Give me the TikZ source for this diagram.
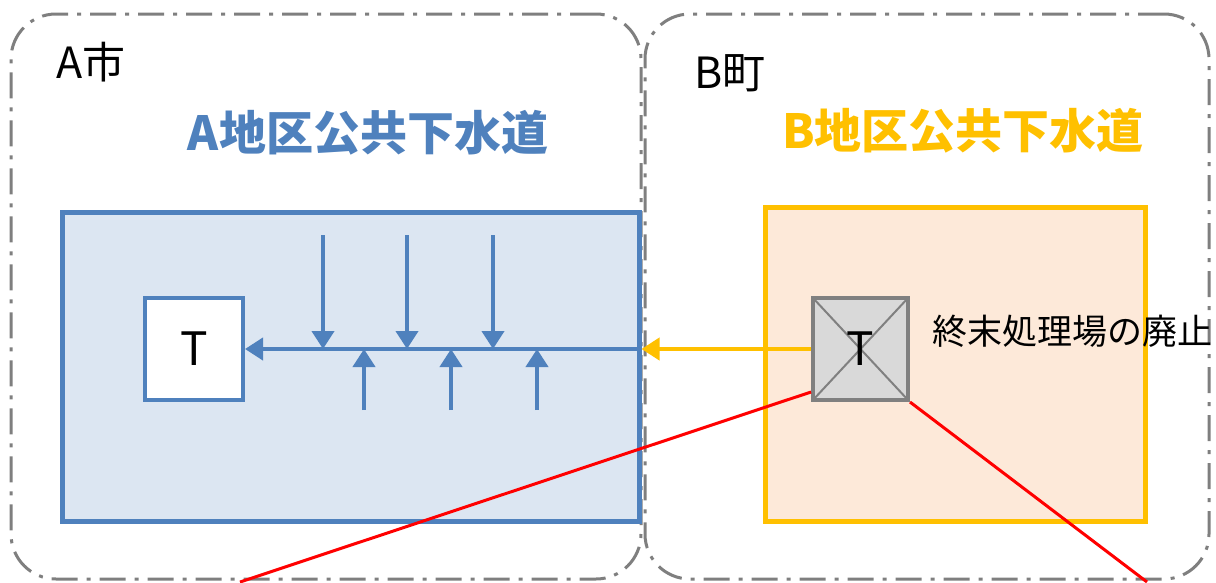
\documentclass[tikz,border=0pt]{standalone}
\usepackage{fontspec}
\setmainfont{Noto Sans CJK JP}
\usetikzlibrary{arrows.meta, positioning}
\definecolor{sewblue}{HTML}{4F81BD}
\definecolor{sewbluefill}{HTML}{DCE6F2}
\definecolor{sewyellow}{HTML}{FFC000}
\definecolor{sewpeach}{HTML}{FDE9D9}
\definecolor{plantfill}{HTML}{D9D9D9}
\definecolor{plantline}{HTML}{808080}
\definecolor{arealine}{HTML}{7F7F7F}
\tikzset{
  area/.style={rectangle, draw=arealine, rounded corners=45pt, line width=3pt,
    dash pattern=on 26pt off 9pt on 4pt off 9pt, inner sep=0pt},
  sewer/.style={rectangle, line width=5pt, inner sep=0pt},
  plant/.style={rectangle, line width=4pt, font=\fontsize{46}{50}\selectfont, inner sep=0pt},
  cityname/.style={font=\fontsize{43}{47}\selectfont, inner sep=0pt},
  title/.style={font=\fontsize{47}{51}\selectfont\bfseries, inner sep=0pt},
  note/.style={font=\fontsize{35}{39}\selectfont, inner sep=0pt},
  flowA/.style={-{Triangle[length=18pt, width=22pt]}, draw=sewblue, line width=4pt},
  flowB/.style={-{Triangle[length=18pt, width=22pt]}, draw=sewyellow, line width=4pt},
  callout/.style={draw=red, line width=3pt}
}

\begin{document}
\begin{tikzpicture}[x=1pt, y=-1pt]
\useasboundingbox (0,0) rectangle (1216,582);

% ---- city / town areas ----
\node[area, minimum width=630pt, minimum height=565pt] (areaA) at (326,296.5) {};
\node[area, minimum width=564pt, minimum height=565pt] (areaB) at (927,296.5) {};
\node[cityname, anchor=west] (cityA) at (56,62) {A市};
\node[cityname, anchor=west] (townB) at (694,73) {B町};

% ---- sewer districts ----
\node[title, text=sewblue] (titleA) at (368,133) {A地区公共下水道};
\node[title, text=sewyellow] (titleB) at (963,131) {B地区公共下水道};
\node[sewer, draw=sewblue, fill=sewbluefill, minimum width=577pt, minimum height=309pt] (sewerA) at (350.5,366.5) {};
\node[sewer, draw=sewyellow, fill=sewpeach, minimum width=380pt, minimum height=314pt] (sewerB) at (955,364) {};

% ---- treatment plants ----
\node[plant, draw=sewblue, fill=white, minimum width=98pt, minimum height=102pt] (tA) at (194,349) {T};

% ---- pipes in A ----
\draw[flowA] (sewerA.east |- tA.east) -- (tA.east);
\foreach \x [count=\i] in {323,407,493} {
  \coordinate (inA\i) at (\x,235);
  \draw[flowA] (inA\i) -- (inA\i |- tA.east);
}
\foreach \x [count=\i] in {364,451,537} {
  \coordinate (upA\i) at (\x,410);
  \draw[flowA] (upA\i) -- (upA\i |- tA.east);
}

% ---- plant B (closed) ----
\node[plant, draw=plantline, fill=plantfill, minimum width=95pt, minimum height=102pt,
  path picture={\draw[plantline, line width=2pt]
    (path picture bounding box.north west) -- (path picture bounding box.south east)
    (path picture bounding box.north east) -- (path picture bounding box.south west);}]
  (plantB) at (860.5,349) {T};
\node[note, anchor=west, right=22pt of plantB, yshift=18pt] (closeB) {終末処理場の廃止};

\draw[flowB] (plantB.west) -- (sewerA.east |- plantB.west);

% ---- callout lines ----
\coordinate (cutA) at (240,582);
\coordinate (cutB) at (1147,582);
\draw[callout] ([yshift=10pt]plantB.south west) -- (cutA);
\draw[callout] (plantB.south east) -- (cutB);

\end{tikzpicture}
\end{document}
